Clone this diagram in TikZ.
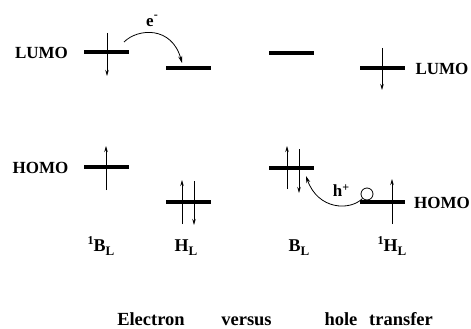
\documentclass[tikz,border=0pt]{standalone}
\usepackage{fontspec}
\setmainfont{Liberation Serif}
\usetikzlibrary{arrows.meta}
\newcommand{\mysub}[1]{\raisebox{-4pt}{\fontsize{13}{13}\selectfont #1}}
\newcommand{\mysup}[2]{\raisebox{#1}{\fontsize{12}{12}\selectfont #2}}
\begin{document}
\begin{tikzpicture}[x=1pt,y=-1pt,
  level/.style={fill=black,inner sep=0pt,minimum width=45pt,minimum height=4pt},
  lbl/.style={font=\bfseries\fontsize{17}{20}\selectfont,inner sep=0pt},
  mol/.style={font=\bfseries\fontsize{18}{20}\selectfont,inner sep=0pt,anchor=base},
  captext/.style={font=\bfseries\fontsize{18.5}{22}\selectfont,inner sep=0pt,anchor=base},
  spin/.style={line width=0.8pt,-{Stealth[length=6pt,width=3.5pt]}},
  hop/.style={line width=0.8pt,-{Stealth[length=7pt,width=4pt]}}]
\useasboundingbox (0,0) rectangle (471,329);
% levels
\node[level] (l1) at (106.5,52) {};
\node[level] (l2) at (188.5,68) {};
\node[level] (l3) at (291.5,53) {};
\node[level] (l4) at (382,68) {};
\node[level] (l5) at (106,167) {};
\node[level] (l6) at (188,202) {};
\node[level] (l7) at (291.5,168) {};
\node[level] (l8) at (382,202) {};
% side labels
\node[lbl] (lumoL) at (41.5,53) {LUMO};
\node[lbl] (homoL) at (40.5,168) {HOMO};
\node[lbl] (lumoR) at (442,69) {LUMO};
\node[lbl] (homoR) at (442,203) {HOMO};
% spin arrows
\coordinate (a1s) at (107,33); \coordinate (a1e) at (107,76);
\draw[spin] (a1s) -- (a1e);
\coordinate (a2s) at (382,48); \coordinate (a2e) at (382,90);
\draw[spin] (a2s) -- (a2e);
\coordinate (a3s) at (106,190); \coordinate (a3e) at (106,146);
\draw[spin] (a3s) -- (a3e);
\coordinate (a4s) at (182,224); \coordinate (a4e) at (182,180);
\draw[spin] (a4s) -- (a4e);
\coordinate (a5s) at (194,181); \coordinate (a5e) at (194,225);
\draw[spin] (a5s) -- (a5e);
\coordinate (a6s) at (287,189); \coordinate (a6e) at (287,146);
\draw[spin] (a6s) -- (a6e);
\coordinate (a7s) at (299,149); \coordinate (a7e) at (299,193);
\draw[spin] (a7s) -- (a7e);
\coordinate (a8s) at (392,224); \coordinate (a8e) at (392,179);
\draw[spin] (a8s) -- (a8e);
% electron transfer
\coordinate (es) at (124,42); \coordinate (ee) at (182,63);
\draw[hop] (es) .. controls (138,28) and (172,26) .. (ee);
\node[lbl,anchor=base] (elab) at (152,27) {e\mysup{8pt}{-}};
% hole transfer
\node[draw,circle,line width=0.8pt,minimum size=12pt,inner sep=0pt] (hole) at (367,194) {};
\coordinate (he) at (306,176);
\draw[hop] (hole.225) .. controls (350,211) and (318,210) .. (he);
\node[lbl,anchor=base] (hlab) at (341,196) {h\mysup{5pt}{+}};
% bottom labels
\node[mol] (n1) at (101,251) {\mysup{7pt}{1}B\mysub{L}};
\node[mol] (n2) at (186,251) {H\mysub{L}};
\node[mol] (n3) at (299,251) {B\mysub{L}};
\node[mol] (n4) at (392,251) {\mysup{7pt}{1}H\mysub{L}};
% caption
\node[captext] (c1) at (151,325) {Electron};
\node[captext] (c2) at (246.5,325) {versus};
\node[captext] (c3) at (341,325) {hole};
\node[captext] (c4) at (401,325) {transfer};
\end{tikzpicture}
\end{document}
